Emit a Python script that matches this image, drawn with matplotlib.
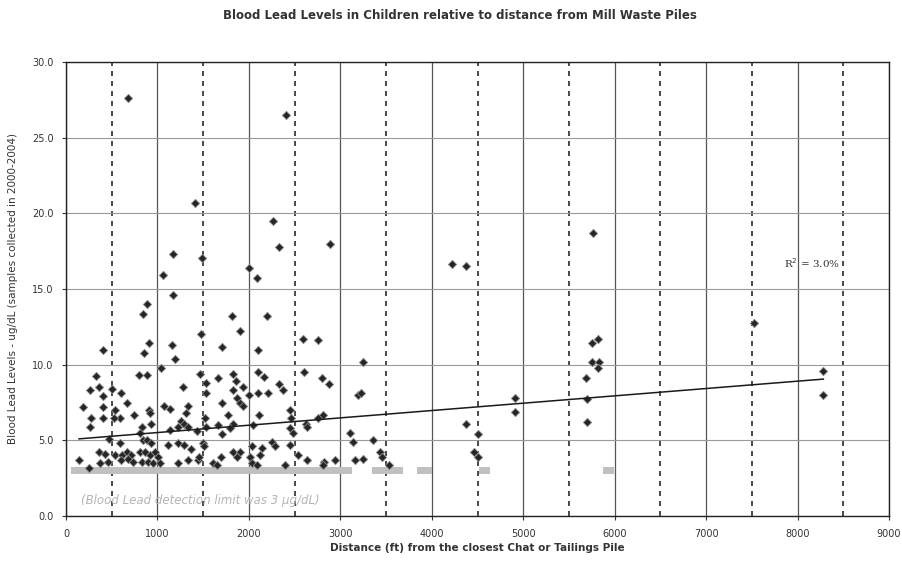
import matplotlib
matplotlib.use('Agg')
import numpy as np
from matplotlib import pyplot as plt
from matplotlib.ticker import MultipleLocator, FormatStrFormatter

# measured samples: distance (ft) and blood lead (ug/dL)
dist_ft = [678, 2407, 1411, 2265, 2330, 2888, 1171, 1488, 1061, 2002, 2090,
           1171, 886, 842, 1816, 2199, 1904, 1477, 908, 1160, 1707, 2593,
           2757, 405, 853, 2101, 1193, 1039, 799, 886, 1466, 328, 1663, 1827,
           2101, 2166, 2604, 2800, 2877, 1532, 1860, 361, 263, 503, 602, 405,
           1280, 1827, 1937, 1532, 2330, 2374, 2101, 2210, 2002, 1871, 667,
           1707, 1904, 1937, 186, 405, 536, 591, 908, 1072, 1138, 1335, 744,
           1313, 919, 2112, 2451, 2462, 2812, 2757, 1772, 273, 405, 525, 1258,
           1291, 1335, 1521, 1532, 930, 1827, 1794, 1663, 2046, 2626, 2637,
           263, 831, 810, 1138, 1225, 1433, 2451, 2484, 1707, 470, 591, 842,
           886, 930, 1116, 1225, 1291, 1499, 1510, 1368, 2254, 2287, 2035,
           2144, 2451, 2538, 361, 427, 536, 613, 667, 711, 810, 864, 919, 974,
           1007, 831, 897, 952, 1028, 1827, 1904, 1871, 1696, 1444, 1455,
           1608, 1652, 2013, 2035, 2123, 2396, 2637, 2823, 2812, 2943, 142,
           252, 372, 460, 602, 678, 733, 1225, 1335, 2090, 3107, 3140, 3162,
           3195, 3249, 3228, 3359, 3249, 3435, 3457, 3534, 4376, 4508, 4464,
           4508, 4912, 4912, 5755, 5820, 5755, 5832, 5820, 5689, 5700, 5700,
           4223, 4376, 5766, 7527, 8282, 8282]
lead_ugdl = [27.6, 26.5, 20.7, 19.5, 17.8, 18.0, 17.3, 17.05, 15.9, 16.4, 15.7,
             14.6, 14.0, 13.35, 13.2, 13.2, 12.2, 12.0, 11.4, 11.3, 11.2, 11.7,
             11.6, 11.0, 10.8, 11.0, 10.4, 9.8, 9.3, 9.3, 9.4, 9.25, 9.1, 9.4,
             9.5, 9.2, 9.5, 9.1, 8.7, 8.8, 8.9, 8.5, 8.3, 8.4, 8.1, 7.9,
             8.5, 8.3, 8.5, 8.1, 8.7, 8.3, 8.1, 8.1, 8.0, 7.8, 7.5,
             7.5, 7.5, 7.3, 7.2, 7.2, 7.0, 6.5, 7.0, 7.3, 7.1, 7.3, 6.7,
             6.8, 6.8, 6.7, 7.0, 6.5, 6.7, 6.5, 6.7, 6.5, 6.5, 6.5, 6.3,
             6.1, 5.9, 6.5, 5.9, 6.1, 6.1, 5.8, 6.0, 6.0, 6.1, 5.9,
             5.9, 5.9, 5.5, 5.7, 5.9, 5.6, 5.8, 5.5, 5.4, 5.1, 4.8, 5.0,
             5.0, 4.8, 4.7, 4.8, 4.7, 4.8, 4.6, 4.4, 4.9, 4.6, 4.6,
             4.5, 4.7, 4.0, 4.2, 4.1, 4.0, 4.0, 4.2, 4.0, 4.2, 4.2, 4.0, 4.2,
             3.9, 3.6, 3.6, 3.5, 3.5, 4.2, 4.2, 3.9, 3.9, 3.7, 3.9,
             3.5, 3.4, 3.9, 3.5, 4.0, 3.4, 3.7, 3.6, 3.4, 3.7, 3.7,
             3.2, 3.5, 3.6, 3.7, 3.8, 3.6, 3.5, 3.7, 3.4, 5.5, 4.9, 3.7,
             8.0, 10.2, 8.1, 5.0, 3.8, 4.2, 3.9, 3.4, 6.1, 5.4, 4.2,
             3.9, 7.8, 6.9, 11.4, 11.7, 10.2, 10.2, 9.8, 9.1, 7.7, 6.2,
             16.65, 16.5, 18.7, 12.75, 9.6, 8.0]

# samples below detection limit (plotted at 3 ug/dL)
det_dist = [95, 130, 175, 215, 250, 295, 330, 370, 415, 450, 490, 535, 570,
            615, 650, 690, 735, 770, 810, 855, 890, 930, 975, 1010, 1050,
            1095, 1130, 1170, 1215, 1250, 1290, 1335, 1370, 1410, 1455, 1490,
            1530, 1575, 1610, 1650, 1695, 1730, 1770, 1815, 1850, 1890, 1935,
            1970, 2010, 2055, 2090, 2130, 2175, 2210, 2250, 2295, 2330, 2370,
            2415, 2450, 2490, 2535, 2570, 2610, 2655, 2690, 2730, 2775, 2810,
            2850, 2895, 2930, 2970, 3015, 3050, 3090, 3380, 3420, 3455, 3490,
            3530, 3570, 3610, 3645, 3880, 3920, 3960, 4560, 4600, 5910, 5950]
det_level = 3.0

trend_x = [142, 8282]
trend_intercept = 5.03
trend_slope = 0.000485
r2_text = "R$^2$ = 3.0%"

fig = plt.figure(figsize=(9.02, 5.67), dpi=100)
ax = fig.add_axes([0.0732, 0.0899, 0.9124, 0.8008])

ax.set_xlim(0, 9000)
ax.set_ylim(0, 30)

# grid: solid at 1000s, dashed at 500s, grey horizontals
ax.xaxis.set_major_locator(MultipleLocator(1000))
ax.xaxis.set_minor_locator(MultipleLocator(500))
ax.yaxis.set_major_locator(MultipleLocator(5))
ax.yaxis.set_major_formatter(FormatStrFormatter('%.1f'))
ax.grid(axis='y', which='major', color='#9a9a9a', lw=0.8, ls='-')
ax.grid(axis='x', which='major', color='#555555', lw=0.9, ls='-')
ax.grid(axis='x', which='minor', color='#2a2a2a', lw=1.2, ls=(0, (3, 3)))
ax.set_axisbelow(True)

ax.scatter(det_dist, [det_level] * len(det_dist), marker='s', s=26,
           color='#c0c0c0', edgecolors='none', zorder=2)
ax.scatter(dist_ft, lead_ugdl, marker='D', s=18, color='#262626',
           edgecolors='#8c8c8c', linewidths=0.6, zorder=3)

tx = np.array(trend_x)
ax.plot(tx, trend_intercept + trend_slope * tx, color='#1a1a1a', lw=1.1, zorder=4)

ax.text(7850, 16.7, r2_text, fontsize=7.5, family='DejaVu Serif',
        color='#333333', va='center')
ax.text(160, 1.0, "(Blood Lead detection limit was 3 \u00b5g/dL)", fontsize=8.5,
        style='italic', color='#b5b5b5', va='center')

for s in ax.spines.values():
    s.set_color('#222222')
    s.set_linewidth(1.0)
ax.tick_params(which='both', length=0, labelsize=7, colors='#333333', pad=6)
ax.tick_params(axis='y', length=3, width=0.8, which='major')
ax.tick_params(axis='x', length=3, width=0.8, which='major')

ax.set_xlabel("Distance (ft) from the closest Chat or Tailings Pile",
              fontsize=7.5, fontweight='bold', color='#333333', labelpad=3)
ax.set_ylabel("Blood Lead Levels - ug/dL (samples collected in 2000-2004)",
              fontsize=7.5, color='#333333', labelpad=10)
fig.suptitle("Blood Lead Levels in Children relative to distance from Mill Waste Piles",
             x=0.51, y=0.985, fontsize=8.5, fontweight='bold', color='#333333')

fig.savefig('out.png', dpi=100)
